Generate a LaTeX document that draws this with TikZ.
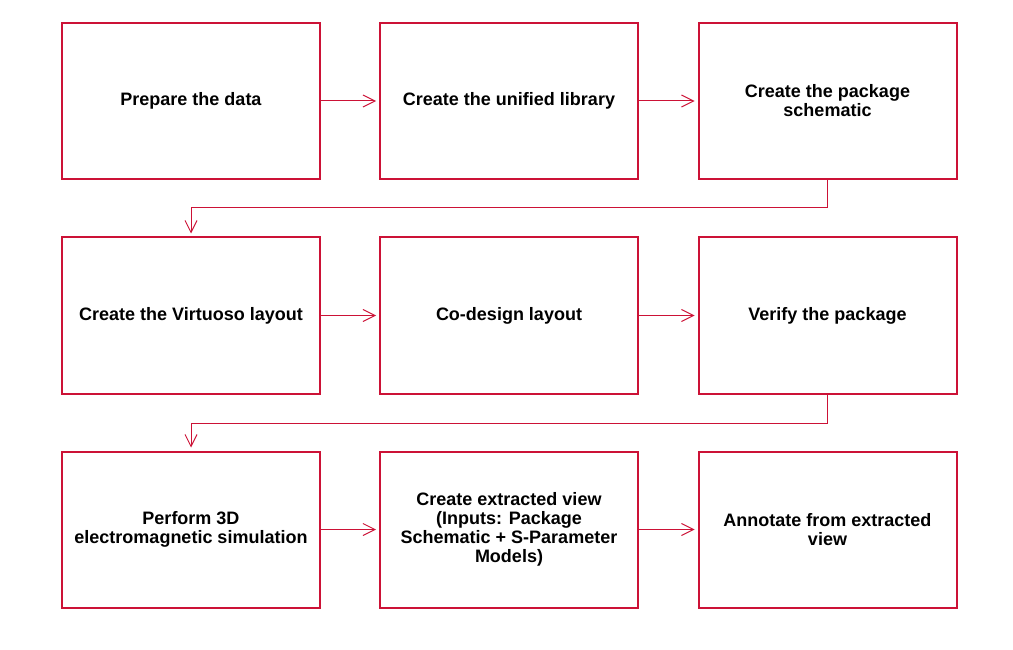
\documentclass[tikz,border=0pt]{standalone}
\usepackage{fontspec}
\setmainfont{Liberation Sans}
\usetikzlibrary{arrows.meta}
\definecolor{flowred}{HTML}{CC1236}
\tikzset{
  stepbox/.style={draw=flowred, line width=2pt, minimum width=258pt, minimum height=156pt,
    inner sep=0pt, align=center, font=\fontsize{18}{19}\selectfont\bfseries},
  flow/.style={draw=flowred, line width=1pt, -{Straight Barb[length=12pt,width=12pt]}, shorten >=3pt}
}
\begin{document}
\begin{tikzpicture}[x=1pt,y=-1pt]
        \useasboundingbox (0,0) rectangle (1013,650);

        \node[stepbox] (prep) at (191,101) {Prepare the data};
        \node[stepbox] (lib) at (509,101) {Create the unified library};
        \node[stepbox] (schem) at (827.5,101) {Create the package\\schematic};

        \node[stepbox] (layout) at (191,315.5) {Create the Virtuoso layout};
        \node[stepbox] (codesign) at (509,315.5) {Co-design layout};
        \node[stepbox] (verify) at (827.5,315.5) {Verify the package};

        \node[stepbox] (sim) at (191,529.5) {Perform 3D\\electromagnetic simulation};
        \node[stepbox] (extract) at (509,529.5) {Create extracted view\\(Inputs: Package\\Schematic + S-Parameter\\Models)};
        \node[stepbox] (annot) at (827.5,529.5) {Annotate from extracted\\view};

        \draw[flow] (prep) -- (lib);
        \draw[flow] (lib) -- (schem);
        \draw[flow] (schem.south) |- (191,208) -- (layout.north);
        \draw[flow] (layout) -- (codesign);
        \draw[flow] (codesign) -- (verify);
        \draw[flow] (verify.south) |- (191,423) -- (sim.north);
        \draw[flow] (sim) -- (extract);
        \draw[flow] (extract) -- (annot);
      \end{tikzpicture}
\end{document}
